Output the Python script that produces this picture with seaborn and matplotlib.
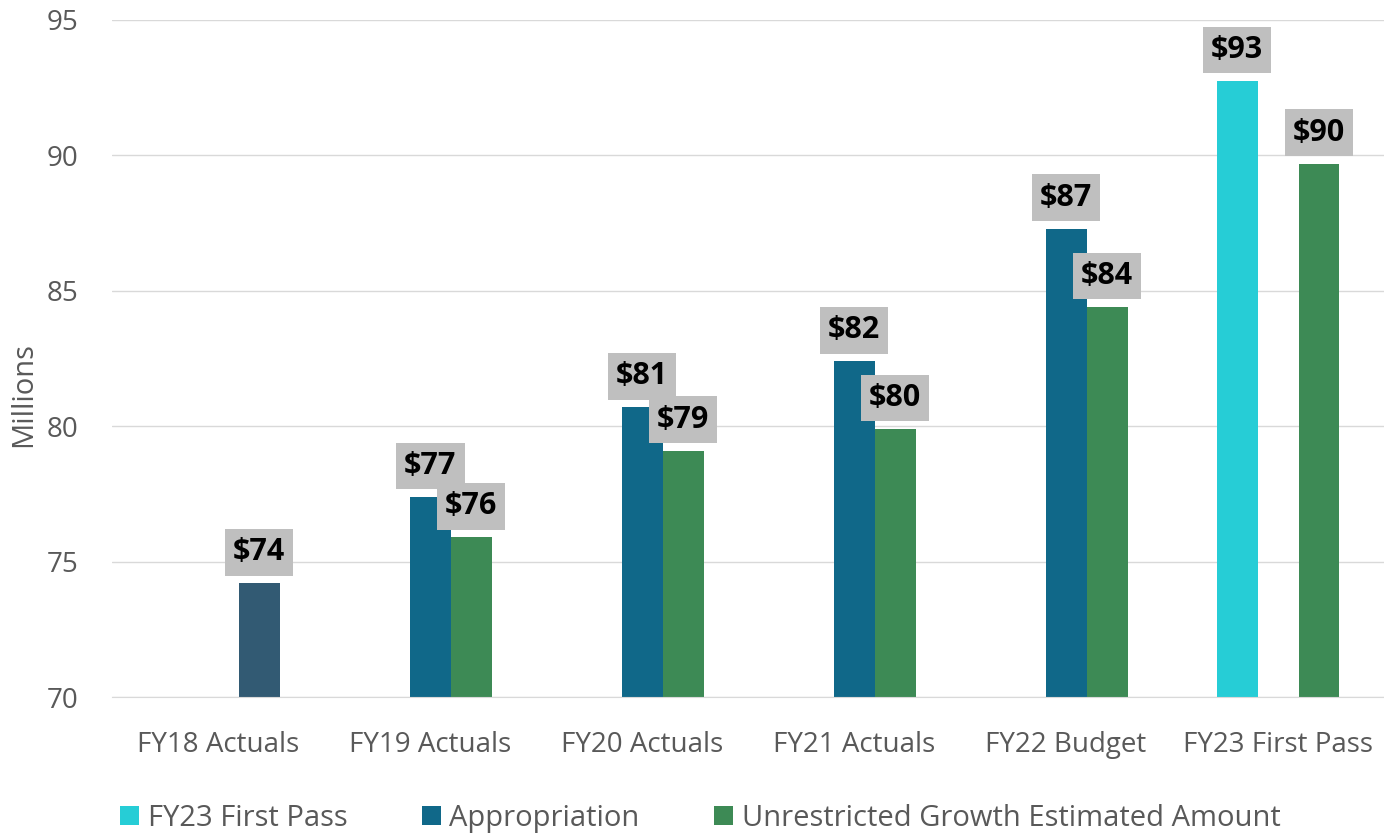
import pandas as pd
import seaborn as sns
import matplotlib.pyplot as plt

# chart data
categories = ["FY18 Actuals", "FY19 Actuals", "FY20 Actuals", "FY21 Actuals", "FY22 Budget", "FY23 First Pass"]
series = ["FY23 First Pass", "Appropriation", "Unrestricted Growth Estimated Amount"]
first_pass = [None, None, None, None, None, 92.75]
appropriation = [None, 77.4, 80.7, 82.4, 87.3, None]
unrestricted = [74.2, 75.9, 79.1, 79.9, 84.4, 89.7]
colors = ["#26CDD6", "#106889", "#3D8A55"]
fy18_color = "#325A73"

rows = []
for name, vals in zip(series, [first_pass, appropriation, unrestricted]):
    for cat, v in zip(categories, vals):
        if v is not None:
            rows.append({"category": cat, "series": name, "value": v})
df = pd.DataFrame(rows)

sns.set_style("white")
plt.rcParams["font.family"] = ["Open Sans", "DejaVu Sans"]
grey = "#595959"

fig = plt.figure(figsize=(13.84, 8.33), dpi=100)
ax = fig.add_axes([0.081, 0.163, 0.919, 0.813])

sns.barplot(data=df, x="category", y="value", hue="series", order=categories,
            hue_order=series, palette=colors, width=0.58, saturation=1,
            linewidth=0, ax=ax, legend=True)

# FY18 bar sits in the third slot but has its own colour
for p in ax.patches:
    if p.get_height() > 0 and abs(p.get_height() - unrestricted[0]) < 1e-9 and p.get_x() < 0.5:
        p.set_facecolor(fy18_color)

for p in ax.patches:
    h = p.get_height()
    if not h or h != h:
        continue
    ax.annotate(f"${h:.0f}", xy=(p.get_x() + p.get_width() / 2, h),
                xytext=(0, 11.5), textcoords="offset points", ha="center", va="bottom",
                fontsize=22, fontweight="bold", color="black",
                bbox=dict(boxstyle="square,pad=0.27", fc="#BFBFBF", ec="none"))

ax.set_ylim(70, 95)
ax.set_yticks(range(70, 96, 5))
ax.set_xlim(-0.5, len(categories) - 0.5)
ax.yaxis.grid(True, color="#D9D9D9", linewidth=1)
ax.set_axisbelow(True)
for s in ["top", "right", "left"]:
    ax.spines[s].set_visible(False)
ax.spines["bottom"].set_color("#D9D9D9")
ax.tick_params(axis="both", length=0, labelsize=20, colors=grey)
ax.tick_params(axis="x", pad=24)
ax.tick_params(axis="y", pad=24)
ax.set_xlabel("")
ax.set_ylabel("Millions", fontsize=21, color=grey)
ax.yaxis.set_label_coords(-0.058, 0.447)

handles, labels = ax.get_legend_handles_labels()
ax.legend_.remove()
fig.legend(handles, labels, loc="center", bbox_to_anchor=(0.506, 0.018), ncol=3,
           frameon=False, fontsize=21, handlelength=0.65, handleheight=0.65,
           handletextpad=0.3, columnspacing=2.55, labelcolor=grey)

fig.savefig("out.png", dpi=100)
